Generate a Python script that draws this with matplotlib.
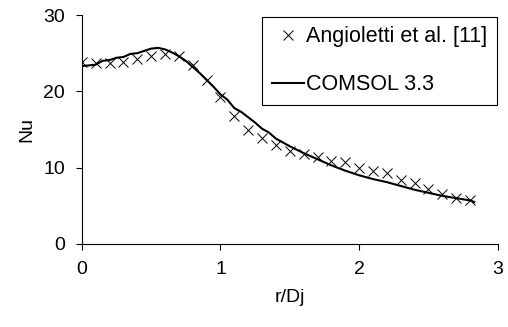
import matplotlib
matplotlib.use('Agg')
import matplotlib.pyplot as plt

plt.rcParams['font.family'] = ['Liberation Sans', 'DejaVu Sans']

# experimental data (Angioletti et al.)
exp_x = [0.0, 0.1, 0.2, 0.3, 0.4, 0.5, 0.6, 0.7, 0.8, 0.9,
         1.0, 1.1, 1.2, 1.3, 1.4, 1.5, 1.6, 1.7, 1.8, 1.9,
         2.0, 2.1, 2.2, 2.3, 2.4, 2.5, 2.6, 2.7, 2.8]
exp_nu = [23.8, 23.7, 23.7, 23.8, 24.3, 24.6, 24.9, 24.6, 23.5, 21.5,
          19.2, 16.8, 14.9, 13.9, 13.0, 12.2, 11.8, 11.4, 10.9, 10.7,
          9.9, 9.5, 9.3, 8.4, 7.95, 7.2, 6.55, 6.0, 5.8]

# COMSOL 3.3 simulation
sim_x = [0.0, 0.05, 0.1, 0.15, 0.2, 0.25, 0.3, 0.35, 0.4, 0.45,
         0.5, 0.55, 0.6, 0.65, 0.7, 0.75, 0.8, 0.85, 0.9, 0.95,
         1.0, 1.05, 1.1, 1.15, 1.2, 1.25, 1.3, 1.35, 1.4, 1.5,
         1.6, 1.7, 1.8, 1.9, 2.0, 2.1, 2.2, 2.3, 2.4, 2.5,
         2.6, 2.7, 2.8, 2.83]
sim_nu = [23.3, 23.4, 23.5, 24.0, 24.1, 24.4, 24.5, 24.9, 25.0, 25.3,
          25.6, 25.7, 25.5, 25.1, 24.6, 24.0, 23.2, 22.4, 21.5, 20.6,
          19.6, 18.9, 17.8, 17.3, 16.6, 15.9, 15.1, 14.6, 13.8, 12.8,
          11.9, 11.1, 10.3, 9.6, 9.0, 8.5, 8.1, 7.6, 7.1, 6.7,
          6.3, 6.0, 5.7, 5.5]

fig = plt.figure(figsize=(5.08, 3.27), dpi=100)
ax = fig.add_axes([0.161, 0.254, 0.819, 0.700])

ax.plot(exp_x, exp_nu, linestyle='none', marker='x', color='black',
        markersize=6.5, markeredgewidth=0.7, label='Angioletti et al. [11]')
ax.plot(sim_x, sim_nu, color='black', linewidth=1.5, label='COMSOL 3.3')

ax.set_xlim(0, 3)
ax.set_ylim(0, 30)
ax.set_xticks([0, 1, 2, 3])
ax.set_yticks([0, 10, 20, 30])
ax.spines['top'].set_visible(False)
ax.spines['right'].set_visible(False)
ax.spines['left'].set_linewidth(0.8)
ax.spines['bottom'].set_linewidth(0.8)
ax.tick_params(direction='out', length=4, width=0.8, labelsize=14, pad=8)
ax.set_xlabel('r/Dj', fontsize=14, labelpad=8)
ax.set_ylabel('Nu', fontsize=14, labelpad=6)

leg = ax.legend(loc='upper right', bbox_to_anchor=(0.998, 0.993), fontsize=15.5,
                frameon=True, fancybox=False, edgecolor='black', framealpha=1,
                handlelength=1.5, handletextpad=0.1, labelspacing=1.25,
                borderpad=0.45, borderaxespad=0)
leg.get_frame().set_linewidth(0.8)

fig.savefig('out.png', dpi=100)
